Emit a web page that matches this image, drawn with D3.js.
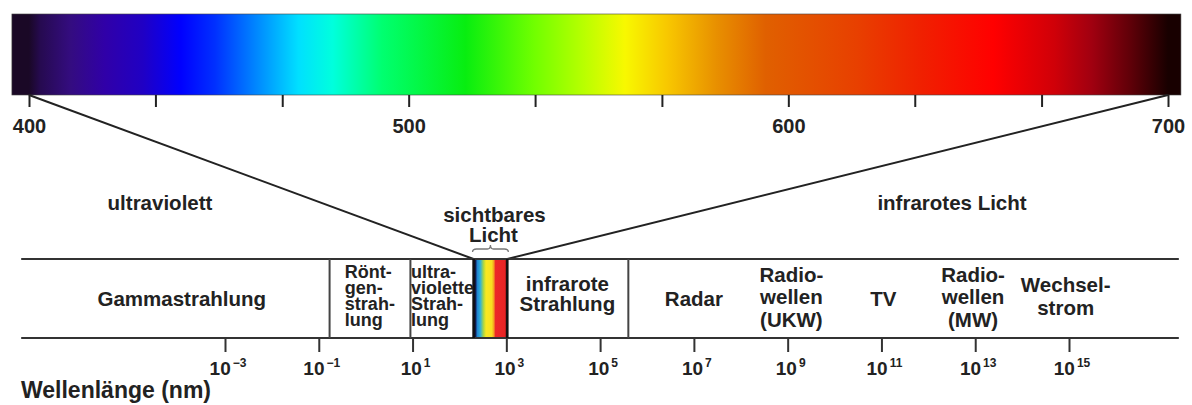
<!DOCTYPE html>
<html>
<head>
<meta charset="utf-8">
<script src="https://cdn.jsdelivr.net/npm/d3@7"></script>
<style>
  body { margin: 0; background: #fff; }
  svg { display: block; font-family: "Liberation Sans", Arial, Helvetica, sans-serif; }
</style>
</head>
<body>
<div class="mainbody"></div>
<script>

// visible spectrum colours along the top bar (nm -> colour)
let spectrumNm = [396, 403, 411, 420, 430, 440, 449, 463, 471, 480, 493, 515, 533, 546, 557, 568, 581, 594, 618, 635, 654, 670, 680, 690, 700];
let spectrumColors = ["#1a0826", "#260a50", "#340c80", "#3000a8", "#2000c4", "#0000ff", "#0030ff", "#00a0ff", "#00e0ff", "#00ffdd", "#00ff70",
                      "#08ee10", "#70ff00", "#b8ff00", "#f8f800", "#f8c800", "#e89000", "#e06000", "#e84000", "#f02000",
                      "#ff0000", "#d00008", "#a00010", "#600008", "#180000"];
let barNm = [395.5, 703.4];

// ticks of the top bar
let nmTicks = [400, 433.3, 466.7, 500, 533.3, 566.7, 600, 633.3, 666.7, 700];
let nmLabels = [400, 500, 600, 700];

// the whole spectrum (wavelength in nm, log axis)
let bandEdges = [4.5e-8, 2.2e17];
let dividerNm = [0.17, 9, 4e5];
let visibleNm = [200, 1050];
let logTickExp = [-3, -1, 1, 3, 5, 7, 9, 11, 13, 15];

// small rainbow inside the band
let rainbowOffsets = [0, 0.07, 0.1, 0.2, 0.3, 0.37, 0.54, 0.6, 0.65, 0.93, 1];
let rainbowColors = ["#0a1030", "#101c50", "#1e7fd0", "#30b0d8", "#b0d840", "#f8e820", "#f8e020", "#f4a020", "#ec2828", "#e82424", "#200808"];

// names of the regions and where the label sits (nm)
let bandNames = ["Gammastrahlung", "Röntgenstrahlung", "ultraviolette Strahlung", "infrarote Strahlung",
                 "Radar", "Radiowellen (UKW)", "TV", "Radiowellen (MW)", "Wechselstrom"];
let bandLines = [["Gammastrahlung"], ["Rönt-", "gen-", "strah-", "lung"], ["ultra-", "violette", "Strah-", "lung"],
                 ["infrarote", "Strahlung"], ["Radar"], ["Radio-", "wellen", "(UKW)"], ["TV"], ["Radio-", "wellen", "(MW)"],
                 ["Wechsel-", "strom"]];
let bandLabelNm = [1.2e-4, 0.36, 9.3, 2e4, 1e7, 1.2e9, 1.1e11, 9e12, 8.5e14];


let w = 1192,
    h = 405;
let ink = "#222";

let svg = d3.select(".mainbody")
            .append("svg")
            .attr("width", w)
            .attr("height", h);

let defs = svg.append("defs");

// scales
let xNm = d3.scaleLinear().domain([400, 700]).range([29, 1168]);
let xLog = d3.scaleLog().domain([1e-3, 1e15]).range([225, 1069]);

let barTop = 14, barBottom = 95;
let bandTop = 259, bandBottom = 338;

// top gradient bar
let grad = defs.append("linearGradient")
               .attr("id", "spec")
               .attr("gradientUnits", "userSpaceOnUse")
               .attr("x1", xNm(400))
               .attr("x2", xNm(700))
               .attr("y1", 0)
               .attr("y2", 0);
grad.selectAll("stop")
    .data(spectrumNm)
    .enter()
    .append("stop")
    .attr("offset", d => (d - 400) / 300)
    .attr("stop-color", (d, i) => spectrumColors[i]);

svg.append("rect")
   .attr("x", xNm(barNm[0]))
   .attr("y", barTop)
   .attr("width", xNm(barNm[1]) - xNm(barNm[0]))
   .attr("height", barBottom - barTop)
   .attr("fill", "url(#spec)")
   .attr("stroke", "#444")
   .attr("stroke-width", 0.6);

// top axis
let topAxis = svg.append("g")
                 .attr("transform", "translate(0," + barBottom + ")")
                 .call(d3.axisBottom(xNm)
                         .tickValues(nmTicks)
                         .tickSize(12)
                         .tickFormat(d => nmLabels.indexOf(d) > -1 ? d : ""));
topAxis.select(".domain").remove();
topAxis.selectAll(".tick line")
       .attr("stroke", ink)
       .attr("stroke-width", 2);
topAxis.selectAll(".tick text")
       .attr("y", 38)
       .attr("dy", 0)
       .attr("fill", ink)
       .attr("font-size", 20)
       .attr("font-weight", "bold");

// connector lines from the bar to the visible slot
let connectors = [[400, visibleNm[0]], [700, visibleNm[1]]];
svg.append("g")
   .selectAll("line")
   .data(connectors)
   .enter()
   .append("line")
   .attr("x1", d => xNm(d[0]))
   .attr("y1", barBottom)
   .attr("x2", d => xLog(d[1]))
   .attr("y2", bandTop)
   .attr("stroke", ink)
   .attr("stroke-width", 2);

// rainbow of the visible part
let rb = defs.append("linearGradient")
             .attr("id", "rainbow")
             .attr("x1", 0).attr("x2", 1)
             .attr("y1", 0).attr("y2", 0);
rb.selectAll("stop")
  .data(rainbowOffsets)
  .enter()
  .append("stop")
  .attr("offset", d => d)
  .attr("stop-color", (d, i) => rainbowColors[i]);

svg.append("rect")
   .attr("x", xLog(visibleNm[0]))
   .attr("y", bandTop)
   .attr("width", xLog(visibleNm[1]) - xLog(visibleNm[0]))
   .attr("height", bandBottom - bandTop)
   .attr("fill", "url(#rainbow)");

// band top and bottom lines
svg.append("g")
   .selectAll("line")
   .data([bandTop, bandBottom])
   .enter()
   .append("line")
   .attr("x1", xLog(bandEdges[0]))
   .attr("x2", xLog(bandEdges[1]))
   .attr("y1", d => d)
   .attr("y2", d => d)
   .attr("stroke", "#333")
   .attr("stroke-width", 2);

// dividers
svg.append("g")
   .selectAll("line")
   .data(dividerNm.concat(visibleNm))
   .enter()
   .append("line")
   .attr("x1", d => xLog(d))
   .attr("x2", d => xLog(d))
   .attr("y1", bandTop)
   .attr("y2", bandBottom)
   .attr("stroke", (d, i) => i < dividerNm.length ? "#444" : "#111")
   .attr("stroke-width", (d, i) => i < dividerNm.length ? 2 : 2.5);

// curly brace above the visible slot
let bx0 = xLog(visibleNm[0]) - 1,
    bx1 = xLog(visibleNm[1]) + 1,
    bm = (bx0 + bx1) / 2,
    by = 252;
svg.append("path")
   .attr("d", "M" + bx0 + "," + by + " q0,-3 4,-3 L" + (bm - 3) + "," + (by - 3) +
              " q3,0 3,-4 q0,4 3,4 L" + (bx1 - 4) + "," + (by - 3) + " q4,0 4,3")
   .attr("fill", "none")
   .attr("stroke", "#777")
   .attr("stroke-width", 1.3);

// labels in the band
let tweak = {"infrarote Strahlung": {lh: 20, dy: -5}, "Wechselstrom": {lh: 23, dy: -2}};
let cy = (bandTop + bandBottom) / 2;
let narrowFs = 18, wideFs = 20.5;

let labels = svg.append("g")
                .selectAll("text")
                .data(bandNames)
                .enter()
                .append("text")
                .attr("fill", ink)
                .attr("font-weight", "bold")
                .attr("text-anchor", (d, i) => bandLines[i].length == 4 ? "start" : "middle")
                .attr("font-size", (d, i) => bandLines[i].length == 4 ? narrowFs : wideFs);

labels.each(function(name, i) {
  let lines = bandLines[i];
  let n = lines.length;
  let fs = n == 4 ? narrowFs : wideFs;
  let lh = n == 4 ? 16 : 22.5;
  let dy = n == 4 ? -3 : (n == 3 ? -1.5 : 0);
  if (tweak[name]) {
    lh = tweak[name].lh;
    dy = tweak[name].dy;
  }
  let x = xLog(bandLabelNm[i]);
  d3.select(this)
    .selectAll("tspan")
    .data(lines)
    .enter()
    .append("tspan")
    .attr("x", x)
    .attr("y", (l, j) => cy + (j - (n - 1) / 2) * lh + 0.36 * fs + dy)
    .text(l => l);
});

// annotation texts above the band
let notes = [
  {t: "ultraviolett", x: 160, y: 210},
  {t: "infrarotes Licht", x: 952, y: 210},
  {t: "sichtbares", x: (xLog(visibleNm[0]) + xLog(visibleNm[1])) / 2 + 4, y: 222},
  {t: "Licht", x: (xLog(visibleNm[0]) + xLog(visibleNm[1])) / 2 + 3, y: 242}
];
svg.append("g")
   .selectAll("text")
   .data(notes)
   .enter()
   .append("text")
   .attr("x", d => d.x)
   .attr("y", d => d.y)
   .attr("text-anchor", "middle")
   .attr("font-size", 20.5)
   .attr("font-weight", "bold")
   .attr("fill", ink)
   .text(d => d.t);

// bottom log axis (ticks only, labels drawn below)
let botAxis = svg.append("g")
                 .attr("transform", "translate(0," + bandBottom + ")")
                 .call(d3.axisBottom(xLog)
                         .tickValues(logTickExp.map(e => Math.pow(10, e)))
                         .tickSize(14)
                         .tickFormat(""));
botAxis.select(".domain").remove();
botAxis.selectAll(".tick line")
       .attr("stroke", "#333")
       .attr("stroke-width", 2);
botAxis.selectAll(".tick text").remove();

// power of ten labels
let powLabels = svg.append("g")
                   .selectAll("text")
                   .data(logTickExp)
                   .enter()
                   .append("text")
                   .attr("x", d => xLog(Math.pow(10, d)) + 3)
                   .attr("y", bandBottom + 37)
                   .attr("text-anchor", "middle")
                   .attr("font-family", "'Liberation Sans', Arial, sans-serif")
                   .attr("font-size", 19)
                   .attr("font-weight", "bold")
                   .attr("fill", ink);
powLabels.append("tspan").text("10");
powLabels.append("tspan")
         .attr("font-size", 12)
         .attr("dx", 2)
         .attr("dy", -8)
         .text(d => String(d).replace("-", "\u2212"));

// axis title
svg.append("text")
   .attr("x", 21)
   .attr("y", 398)
   .attr("font-size", 23)
   .attr("font-weight", "bold")
   .attr("fill", ink)
   .text("Wellenlänge (nm)");

</script>
</body>
</html>
